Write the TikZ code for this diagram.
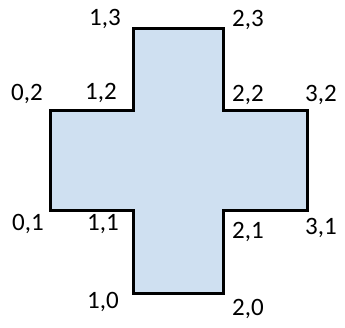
\documentclass[tikz,border=0pt]{standalone}
\usepackage{fontspec}
\setmainfont{Carlito}
\definecolor{crossfill}{RGB}{207,224,241}
\tikzstyle{cross} = [
    draw=black,
    line width=3pt,
    fill=crossfill,
    line join=miter
]
\tikzstyle{corner} = [
    font=\fontsize{25}{25}\selectfont,
    inner sep=0pt
]

\begin{document}
\begin{tikzpicture}[x=1pt, y=-1pt]

\useasboundingbox (0,0) rectangle (345,327);

\draw [cross] (133,28) -- (223,28) -- (223,110) -- (307,110) -- (307,210)
    -- (223,210) -- (223,293) -- (133,293) -- (133,210) -- (50,210)
    -- (50,110) -- (133,110) -- cycle;

\node (c13) [corner] at (105,19) {1,3};
\node (c23) [corner] at (248,20) {2,3};
\node (c02) [corner] at (27,94) {0,2};
\node (c12) [corner] at (101,93) {1,2};
\node (c22) [corner] at (248,95) {2,2};
\node (c32) [corner] at (321,95) {3,2};
\node (c01) [corner] at (28,224) {0,1};
\node (c11) [corner] at (103,224) {1,1};
\node (c21) [corner] at (248,232) {2,1};
\node (c31) [corner] at (321,228) {3,1};
\node (c10) [corner] at (103,302) {1,0};
\node (c20) [corner] at (248,309) {2,0};

\end{tikzpicture}
\end{document}
